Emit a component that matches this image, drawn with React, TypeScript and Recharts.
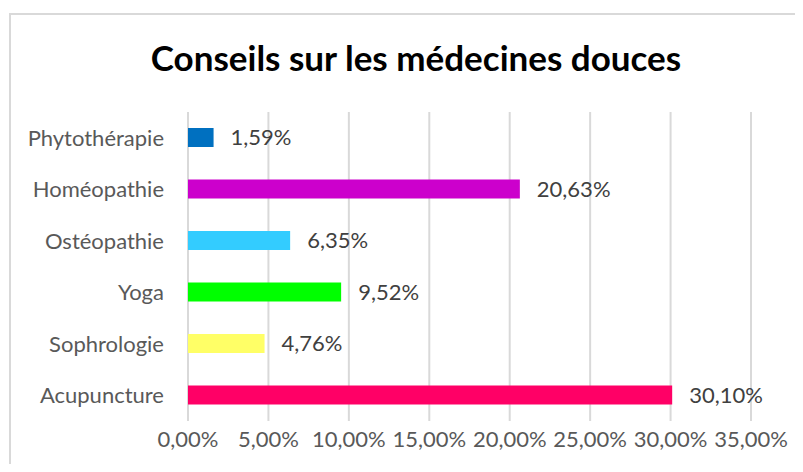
import React from 'react';
import { BarChart, Bar, XAxis, YAxis, CartesianGrid, Cell, LabelList } from 'recharts';

const categories = ['Phytothérapie', 'Homéopathie', 'Ostéopathie', 'Yoga', 'Sophrologie', 'Acupuncture'];
const values = [1.59, 20.63, 6.35, 9.52, 4.76, 30.1];
const colors = ['#0070C0', '#CC00CC', '#33CCFF', '#00FF00', '#FFFF66', '#FF0066'];
const xTicks = [0, 5, 10, 15, 20, 25, 30, 35];

const fmt = (v: number) => `${Number(v).toFixed(2).replace('.', ',')}%`;

const data = categories.map((name, i) => ({ name, value: values[i] }));

const font = 'Lato, "Open Sans", sans-serif';

const App: React.FC = () => {
  return (
    <div style={{ position: 'relative', width: 795, height: 456, overflow: 'hidden', fontFamily: font }}>
      <div
        style={{
          position: 'absolute',
          left: 1,
          top: 5,
          width: 810,
          height: 470,
          border: '2px solid #d9d9d9',
          boxSizing: 'border-box',
          background: '#fff',
        }}
      >
        <div
          style={{
            position: 'absolute',
            left: 0,
            top: 22,
            width: 810,
            textAlign: 'center',
            fontSize: 35,
            fontWeight: 700,
            color: '#000',
            lineHeight: '40px',
          }}
        >
          Conseils sur les médecines douces
        </div>
        <div style={{ position: 'absolute', left: -2, top: -2 }}>
          <BarChart
            width={810}
            height={470}
            data={data}
            layout="vertical"
            margin={{ top: 99, right: 68, left: 0, bottom: 32 }}
          >
            <CartesianGrid horizontal={false} stroke="#d9d9d9" strokeWidth={2} />
            <XAxis
              type="number"
              domain={[0, 35]}
              ticks={xTicks}
              tickFormatter={fmt}
              axisLine={false}
              tickLine={false}
              tickSize={0}
              tickMargin={10}
              height={30}
              interval={0}
              tick={{ fill: '#595959', fontSize: 22, fontFamily: font }}
            />
            <YAxis
              type="category"
              dataKey="name"
              width={179}
              axisLine={false}
              tickLine={false}
              tickSize={0}
              tickMargin={24}
              interval={0}
              tick={{ fill: '#595959', fontSize: 22, fontFamily: font }}
            />
            <Bar dataKey="value" barSize={19} isAnimationActive={false}>
              {data.map((d, i) => (
                <Cell key={d.name} fill={colors[i]} />
              ))}
              <LabelList
                dataKey="value"
                position="right"
                offset={17}
                formatter={(v: any) => fmt(v)}
                style={{ fill: '#404040', fontSize: 22, fontFamily: font }}
              />
            </Bar>
          </BarChart>
        </div>
      </div>
    </div>
  );
};

export default App;
